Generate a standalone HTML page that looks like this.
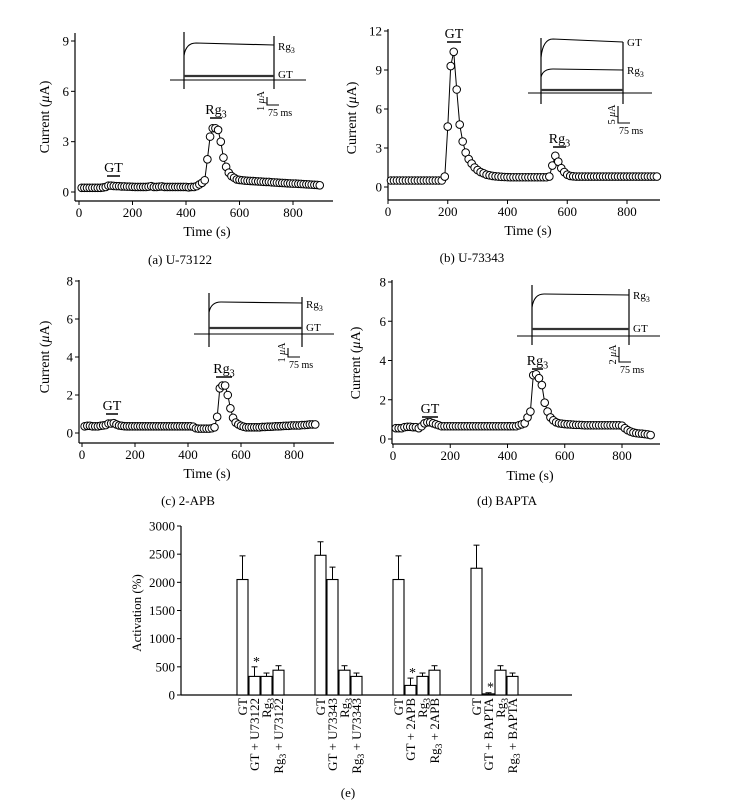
<!DOCTYPE html>
<html><head><meta charset="utf-8"><style>
html,body{margin:0;padding:0;background:#fff;}
svg{display:block;font-family:"Liberation Serif",serif;}
</style></head><body>
<svg id="fig" width="745" height="809" viewBox="0 0 745 809" xmlns="http://www.w3.org/2000/svg"></svg>
<script>
// ---- Panel data (current in µA, sampled every 10 s) ----
const timeStart = 10, timeStep = 10;
const currentA = [0.25,0.25,0.25,0.25,0.25,0.25,0.25,0.25,0.27,0.3,
 0.38,0.38,0.36,0.35,0.35,0.33,0.33,0.32,0.32,0.31,
 0.3,0.3,0.3,0.3,0.3,0.32,0.35,0.3,0.3,0.32,
 0.33,0.3,0.3,0.3,0.3,0.3,0.3,0.3,0.3,0.3,
 0.28,0.3,0.3,0.35,0.45,0.55,0.7,1.95,3.3,3.8,
 3.8,3.7,3.0,2.05,1.5,1.15,0.95,0.85,0.75,0.72,
 0.7,0.68,0.67,0.66,0.65,0.64,0.63,0.62,0.61,0.6,
 0.6,0.58,0.57,0.56,0.55,0.54,0.53,0.52,0.51,0.5,
 0.5,0.49,0.48,0.47,0.46,0.45,0.44,0.43,0.42,0.4];
const currentB = [0.5,0.5,0.5,0.5,0.5,0.5,0.5,0.5,0.5,0.5,
 0.5,0.5,0.5,0.5,0.5,0.5,0.5,0.5,0.8,4.65,
 9.3,10.4,7.5,4.8,3.5,2.65,2.15,1.8,1.5,1.3,
 1.15,1.05,0.95,0.9,0.85,0.82,0.8,0.78,0.77,0.76,
 0.75,0.75,0.75,0.75,0.75,0.75,0.75,0.75,0.75,0.75,
 0.75,0.75,0.75,0.8,1.65,2.4,1.95,1.45,1.15,0.95,
 0.85,0.82,0.8,0.8,0.8,0.8,0.8,0.8,0.8,0.8,
 0.8,0.8,0.8,0.8,0.8,0.8,0.8,0.8,0.8,0.8,
 0.8,0.8,0.8,0.8,0.8,0.8,0.8,0.8,0.8,0.8];
const currentC = [0.35,0.38,0.38,0.35,0.35,0.35,0.38,0.4,0.42,0.5,
 0.5,0.52,0.45,0.4,0.38,0.36,0.35,0.35,0.35,0.35,
 0.35,0.35,0.35,0.35,0.35,0.35,0.35,0.35,0.35,0.35,
 0.35,0.35,0.35,0.35,0.35,0.35,0.35,0.35,0.35,0.35,
 0.35,0.33,0.25,0.23,0.23,0.23,0.23,0.23,0.25,0.3,
 0.85,2.35,2.5,2.5,2.0,1.3,0.8,0.55,0.45,0.38,
 0.33,0.3,0.3,0.3,0.3,0.3,0.3,0.32,0.32,0.33,
 0.33,0.34,0.35,0.35,0.36,0.37,0.38,0.38,0.4,0.4,
 0.4,0.4,0.42,0.42,0.43,0.45,0.45,0.45];
const currentD = [0.55,0.55,0.55,0.6,0.62,0.62,0.6,0.6,0.55,0.65,
 0.8,0.85,0.85,0.8,0.75,0.7,0.65,0.65,0.65,0.65,
 0.65,0.65,0.65,0.65,0.65,0.65,0.65,0.65,0.65,0.65,
 0.65,0.65,0.65,0.65,0.65,0.65,0.65,0.65,0.65,0.65,
 0.65,0.65,0.65,0.7,0.75,0.8,1.1,1.4,3.25,3.3,
 3.1,2.75,1.85,1.4,1.1,0.95,0.85,0.8,0.78,0.76,
 0.75,0.74,0.73,0.72,0.72,0.71,0.7,0.7,0.7,0.7,
 0.7,0.7,0.7,0.7,0.7,0.7,0.7,0.7,0.7,0.68,
 0.55,0.45,0.38,0.33,0.3,0.28,0.27,0.25,0.23,0.2];
const xTicks = [0,200,400,600,800];
const yTicksA = [0,3,6,9];
const yTicksB = [0,3,6,9,12];
const yTicksC = [0,2,4,6,8];

// ---- Bar chart data ----
const groups = ["U73122","U73343","2APB","BAPTA"];
const barLabels = [["GT","GT + U73122","Rg3","Rg3 + U73122"],["GT","GT + U73343","Rg3","Rg3 + U73343"],["GT","GT + 2APB","Rg3","Rg3 + 2APB"],["GT","GT + BAPTA","Rg3","Rg3 + BAPTA"]];
const activation = [[2050,330,330,440],[2480,2050,440,330],[2050,170,330,440],[2250,20,440,330]];
const activationErr = [[420,170,60,80],[240,220,80,60],[420,130,60,80],[410,20,80,60]];
const significant = [[false,true,false,false],[false,false,false,false],[false,true,false,false],[false,true,false,false]];
const barYTicks = [0,500,1000,1500,2000,2500,3000];

const NS="http://www.w3.org/2000/svg";
const svg=document.getElementById('fig');
function el(tag,attrs,parent){const e=document.createElementNS(NS,tag);for(const k in attrs)e.setAttribute(k,attrs[k]);(parent||svg).appendChild(e);return e;}
function txt(str,x,y,size,anchor,parent){const t=el('text',{x:x,y:y,'font-size':size,'text-anchor':anchor||'middle',fill:'#000'},parent);t.textContent=str;return t;}
function rgText(x,y,size,anchor,parent,suffix){
  const t=el('text',{x:x,y:y,'font-size':size,'text-anchor':anchor||'middle',fill:'#000'},parent);
  const a=el('tspan',{},t);a.textContent='Rg';
  const b=el('tspan',{'font-size':size*0.72,dy:size*0.25},t);b.textContent='3';
  if(suffix){const c=el('tspan',{dy:-size*0.25},t);c.textContent=suffix;}
  return t;
}

function panel(o){
  const g=el('g',{});
  
  
  const xs=t=>o.x0+t*(o.x800-o.x0)/800;
  const ys=v=>o.y0-v*(o.y0-o.yTop)/o.vTop;
  // axes
  const ya=el('line',{x1:o.ax,y1:o.axTop,x2:o.ax,y2:o.axY,stroke:'#000','stroke-width':1.2},g);
  
  const xa=el('line',{x1:o.ax,y1:o.axY,x2:o.axR,y2:o.axY,stroke:'#000','stroke-width':1.2},g);
  
  o.yTicks.forEach(v=>{
    el('line',{x1:o.ax-4,y1:ys(v),x2:o.ax,y2:ys(v),stroke:'#000'},g);
    const t=txt(String(v),o.ax-6,ys(v)+4.5,13,'end',g);
    
  });
  xTicks.forEach(v=>{
    el('line',{x1:xs(v),y1:o.axY,x2:xs(v),y2:o.axY+4,stroke:'#000'},g);
    const t=txt(String(v),xs(v),o.axY+16,13,'middle',g);
    
  });
  const xt=txt('Time (s)',o.xtX,o.xtY,14,'middle',g);
  
  const yt=el('text',{x:0,y:0,'font-size':14,'text-anchor':'middle',transform:`translate(${o.ytX},${o.ytY}) rotate(-90)`},g);
  
  const s1=el('tspan',{},yt);s1.textContent='Current (';
  const s2=el('tspan',{'font-style':'italic'},yt);s2.textContent='μ';
  const s3=el('tspan',{},yt);s3.textContent='A)';
  // series
  const pts=o.data.map((v,i)=>[xs(timeStart+i*timeStep),ys(v)]);
  const line=el('path',{d:'M'+pts.map(p=>p[0].toFixed(1)+','+p[1].toFixed(1)).join('L'),fill:'none',stroke:'#000','stroke-width':1},g);
  
  pts.forEach(p=>{
    const c=el('circle',{cx:p[0],cy:p[1],r:3.8,fill:'#fff',stroke:'#000','stroke-width':1},g);
    
  });
  // application bars
  o.bars.forEach(b=>{
    el('line',{x1:b.x1,y1:b.y,x2:b.x2,y2:b.y,stroke:'#000','stroke-width':1.5},g);
    const t=b.rg?rgText((b.x1+b.x2)/2,b.y-4,14,'middle',g):txt('GT',(b.x1+b.x2)/2,b.y-4,14,'middle',g);
    
  });
  // inset
  const I=o.inset;
  const ig=el('g',{},g);
  
  el('line',{x1:I.bl,y1:I.base,x2:I.br,y2:I.base,stroke:'#333','stroke-width':1.2},ig);
  el('line',{x1:I.l,y1:I.top,x2:I.l,y2:I.bot,stroke:'#000','stroke-width':1.2},ig);
  el('line',{x1:I.r,y1:I.top+4,x2:I.r,y2:I.bot,stroke:'#000','stroke-width':1.2},ig);
  I.traces.forEach(tr=>{
    el('path',{d:`M${I.l},${tr.y+(I.base-tr.y)*0.3} Q${I.l+2},${tr.y-tr.over} ${I.l+12},${tr.y-tr.over} L${I.r},${tr.y}`,fill:'none',stroke:'#000','stroke-width':1.1},ig);
  });
  el('line',{x1:I.l,y1:I.gt,x2:I.r,y2:I.gt,stroke:'#333','stroke-width':2.2},ig);
  I.labels.forEach(lb=>{ if(lb.rg) rgText(I.r+4,lb.y,11,'start',ig); else txt('GT',I.r+4,lb.y,11,'start',ig); });
  el('path',{d:`M${I.sx},${I.sy1} L${I.sx},${I.sy2} L${I.sx+12},${I.sy2}`,fill:'none',stroke:'#000','stroke-width':1.1},ig);
  const sb=el('text',{x:0,y:0,'font-size':10,'text-anchor':'middle',transform:`translate(${I.sx-3},${(I.sy1+I.sy2)/2}) rotate(-90)`},ig);
  const q1=el('tspan',{},sb);q1.textContent=I.scale+' ';
  const q2=el('tspan',{'font-style':'italic'},sb);q2.textContent='μ';
  const q3=el('tspan',{},sb);q3.textContent='A';
  txt('75 ms',I.sx+1,I.sy2+11,10,'start',ig);
  const cap=txt(o.caption,o.capX,o.capY,13,'middle',g);
  
}

panel({name:'panel-a-u73122',data:currentA,yTicks:yTicksA,vTop:9,x0:79,x800:293,y0:192,yTop:41,ax:75,axTop:33,axY:201,axR:333,
  xtX:207,xtY:236,ytX:49,ytY:117,caption:'(a)  U-73122',capX:180,capY:264,
  bars:[{x1:107,x2:120,y:176},{x1:210,x2:222,y:118,rg:true}],
  inset:{bl:170,br:306,base:80,l:184,r:274,top:32,bot:89,gt:76,traces:[{y:45,over:2}],labels:[{y:50,rg:true},{y:78}],sx:267,sy1:97,sy2:105,scale:'1'}});
panel({name:'panel-b-u73343',data:currentB,yTicks:yTicksB,vTop:12,x0:388,x800:627,y0:187,yTop:31,ax:388,axTop:29,axY:200,axR:660,
  xtX:528,xtY:235,ytX:356,ytY:118,caption:'(b)  U-73343',capX:472,capY:262,
  bars:[{x1:447,x2:461,y:42},{x1:553,x2:566,y:147,rg:true}],
  inset:{bl:528,br:652,base:93,l:541,r:623,top:38,bot:104,gt:90,traces:[{y:42,over:3},{y:70,over:1}],labels:[{y:46},{y:74,rg:true}],sx:618,sy1:106,sy2:123,scale:'5'}});
panel({name:'panel-c-2apb',data:currentC,yTicks:yTicksC,vTop:8,x0:82,x800:294,y0:433,yTop:281,ax:79,axTop:280,axY:443,axR:334,
  xtX:207,xtY:478,ytX:49,ytY:357,caption:'(c)  2-APB',capX:188,capY:505,
  bars:[{x1:106,x2:118,y:414},{x1:216,x2:232,y:377,rg:true}],
  inset:{bl:194,br:334,base:334,l:209,r:302,top:293,bot:347,gt:328,traces:[{y:303,over:1}],labels:[{y:308,rg:true},{y:331}],sx:288,sy1:348,sy2:357,scale:'1'}});
panel({name:'panel-d-bapta',data:currentD,yTicks:yTicksC,vTop:8,x0:393,x800:622,y0:439,yTop:282,ax:392,axTop:280,axY:444,axR:660,
  xtX:530,xtY:480,ytX:360,ytY:363,caption:'(d)  BAPTA',capX:507,capY:505,
  bars:[{x1:422,x2:438,y:417},{x1:532,x2:543,y:369,rg:true}],
  inset:{bl:517,br:660,base:336,l:532,r:629,top:285,bot:345,gt:329,traces:[{y:295,over:1}],labels:[{y:299,rg:true},{y:332}],sx:619,sy1:347,sy2:362,scale:'2'}});

// ---- Bar chart (e) ----
(function(){
  const g=el('g',{});
  
  
  const y0=695, yT=526, ax=181;
  const ys=v=>y0-v*(y0-yT)/3000;
  const groupX=gi=>237+gi*78;
  const barX=(gi,bi)=>groupX(gi)+bi*12;
  const bw=11;
  const ya=el('line',{x1:ax,y1:ys(3000),x2:ax,y2:y0,stroke:'#000','stroke-width':1.2},g);
  
  const xa=el('line',{x1:ax,y1:y0,x2:572,y2:y0,stroke:'#000','stroke-width':1.2},g);
  
  barYTicks.forEach(v=>{
    el('line',{x1:ax-4,y1:ys(v),x2:ax,y2:ys(v),stroke:'#000'},g);
    const t=txt(String(v),ax-6,ys(v)+4.5,13,'end',g);
    
  });
  const yt=txt('Activation (%)',0,0,13,'middle',g);
  yt.setAttribute('transform','translate(141,613) rotate(-90)');
  
  groups.forEach((gn,gi)=>{
    activation[gi].forEach((v,bi)=>{
      const x=barX(gi,bi), cx=x+bw/2, top=ys(v), et=ys(v+activationErr[gi][bi]);
      el('line',{x1:cx,y1:top,x2:cx,y2:et,stroke:'#000','stroke-width':1},g);
      el('line',{x1:cx-3,y1:et,x2:cx+3,y2:et,stroke:'#000','stroke-width':1},g);
      const r=el('rect',{x:x,y:top,width:bw,height:y0-top,fill:'#fff',stroke:'#000','stroke-width':1.1},g);
      
      
      if(significant[gi][bi]){
        const s=txt('*',cx+2,et-1,14,'middle',g);
        
      }
      const lbl=barLabels[gi][bi];
      const t=el('text',{x:0,y:0,'font-size':13,'text-anchor':'end',transform:`translate(${cx+4.5},698) rotate(-90)`},g);
      
      if(lbl.startsWith('Rg3')){
        const a=el('tspan',{},t);a.textContent='Rg';
        const b=el('tspan',{'font-size':9.5,dy:3},t);b.textContent='3';
        if(lbl.length>3){const c=el('tspan',{dy:-3},t);c.textContent=lbl.slice(3);}
      } else t.textContent=lbl;
    });
  });
  const cap=txt('(e)',348,797,13,'middle',g);
  
})();
</script>
</body></html>
